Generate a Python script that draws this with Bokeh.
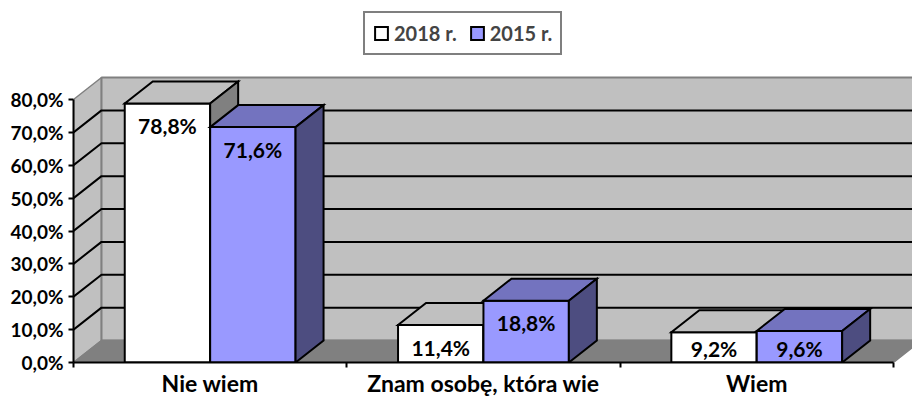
from bokeh.plotting import figure
from bokeh.models import Range1d, FixedTicker, Legend, LegendItem
from bokeh.core.properties import value
from bokeh.embed import file_html
from bokeh.resources import INLINE

# ---- data ----
categories = ["Nie wiem", "Znam osobę, która wie", "Wiem"]
series_names = ["2018 r.", "2015 r."]
values_2018 = [78.8, 11.4, 9.2]
values_2015 = [71.6, 18.8, 9.6]
y_ticks = [0, 10, 20, 30, 40, 50, 60, 70, 80]
y_tick_labels = ["0,0%", "10,0%", "20,0%", "30,0%", "40,0%", "50,0%", "60,0%", "70,0%", "80,0%"]

# ---- geometry ----
FONT = "Lato"
W, H = 912, 401
BL, BR, BT, BB = 73, 0, 0, 39
frame_w = W - BL - BR
frame_h = H - BT - BB
YTOP = y_ticks[-1]
PX_PER_Y = 263.0 / YTOP          # 80% spans ~263 px
PX_PER_X = 273.3                 # one category ~273 px
DX = 28 / PX_PER_X               # depth offset (x)
DY = 22 / PX_PER_Y               # depth offset (y)
XMAX = frame_w / PX_PER_X
YMAX = frame_h / PX_PER_Y
NCAT = len(categories)
BAR_W = 0.3125

WALL = "#C0C0C0"
WALL_EDGE = "#808080"
FLOOR = "#808080"
fills = [dict(front="#FFFFFF", top="#C0C0C0", side="#808080"),
         dict(front="#9999FF", top="#7373BF", side="#4D4D80")]

p = figure(width=W, height=H, output_backend="svg", toolbar_location=None,
           x_range=Range1d(0, XMAX), y_range=Range1d(0, YMAX),
           min_border_left=BL, min_border_right=BR, min_border_top=BT, min_border_bottom=BB)
p.outline_line_color = None
p.xgrid.visible = False
p.ygrid.visible = False
p.background_fill_color = "white"
p.border_fill_color = "white"

# walls and floor
p.patch([0, 0, DX, DX], [0, YTOP, YTOP + DY, DY], fill_color=WALL, line_color=WALL_EDGE, line_width=1.5)
p.patch([DX, DX, NCAT + DX, NCAT + DX], [DY, YTOP + DY, YTOP + DY, DY],
        fill_color=WALL, line_color=WALL_EDGE, line_width=2)
p.patch([0, NCAT, NCAT + DX, DX], [0, 0, DY, DY], fill_color=FLOOR, line_color=WALL_EDGE, line_width=1.5)

# gridlines (side wall + back wall)
gx, gy = [], []
for t in y_ticks[1:-1]:
    gx.append([0, DX, NCAT + DX])
    gy.append([t, t + DY, t + DY])
p.multi_line(gx, gy, line_color="black", line_width=2)

# bars
renderers = []
labels_x, labels_y, labels_t = [], [], []
for s, vals in enumerate([values_2018, values_2015]):
    fx, fy, tx, ty, sx, sy = [], [], [], [], [], []
    for i, v in enumerate(vals):
        x0 = i + 0.5 - BAR_W + s * BAR_W
        x1 = x0 + BAR_W
        fx.append([x0, x1, x1, x0]); fy.append([0, 0, v, v])
        tx.append([x0, x1, x1 + DX, x0 + DX]); ty.append([v, v, v + DY, v + DY])
        sx.append([x1, x1 + DX, x1 + DX, x1]); sy.append([0, DY, v + DY, v])
        labels_x.append((x0 + x1) / 2)
        labels_y.append(max(v - 6.7, 4.3))
        labels_t.append(f"{v:.1f}".replace(".", ",") + "%")
    c = fills[s]
    fr = p.patches(fx, fy, fill_color=c["front"], line_color="black", line_width=2, line_join="miter")
    p.patches(tx, ty, fill_color=c["top"], line_color="black", line_width=2, line_join="miter")
    p.patches(sx, sy, fill_color=c["side"], line_color="black", line_width=2, line_join="miter")
    renderers.append(fr)

p.text(x=labels_x, y=labels_y, text=labels_t, text_align="center", text_baseline="middle",
       text_font=value(FONT), text_font_style="bold", text_font_size="21px", text_color="black")

# y axis
ya = p.yaxis[0]
ya.ticker = FixedTicker(ticks=y_ticks)
ya.major_label_overrides = {t: l for t, l in zip(y_ticks, y_tick_labels)}
ya.bounds = (0, YTOP)
ya.axis_line_color = "black"
ya.axis_line_width = 2
ya.major_tick_line_color = "black"
ya.major_tick_line_width = 2
ya.major_tick_out = 5
ya.major_tick_in = 0
ya.minor_tick_line_color = None
ya.major_label_standoff = 5
ya.major_label_text_font = FONT
ya.major_label_text_font_style = "bold"
ya.major_label_text_font_size = "19px"
ya.major_label_text_color = "black"

# x axis
xa = p.xaxis[0]
centers = [i + 0.5 for i in range(NCAT)]
xa.ticker = FixedTicker(ticks=centers, minor_ticks=list(range(NCAT + 1)))
xa.major_label_overrides = {c: n for c, n in zip(centers, categories)}
xa.bounds = (0, NCAT)
xa.axis_line_color = "black"
xa.axis_line_width = 2
xa.major_tick_line_color = None
xa.major_tick_out = 0
xa.major_tick_in = 0
xa.minor_tick_line_color = "black"
xa.minor_tick_line_width = 2
xa.minor_tick_out = 5
xa.minor_tick_in = 0
xa.major_label_standoff = 1
xa.major_label_text_font = FONT
xa.major_label_text_font_style = "bold"
xa.major_label_text_font_size = "23px"
xa.major_label_text_color = "black"

legend = Legend(items=[LegendItem(label=series_names[0], renderers=[renderers[0]]),
                       LegendItem(label=series_names[1], renderers=[renderers[1]])],
                orientation="horizontal", location=(290, 307), margin=0, padding=8,
                spacing=12, label_standoff=5, glyph_width=16, glyph_height=16, label_height=24,
                border_line_color="black", border_line_width=2, background_fill_color="white",
                background_fill_alpha=1,
                label_text_font=FONT, label_text_font_style="bold", label_text_font_size="20px")
p.add_layout(legend)

open("out.html", "w").write(file_html(p, INLINE))
